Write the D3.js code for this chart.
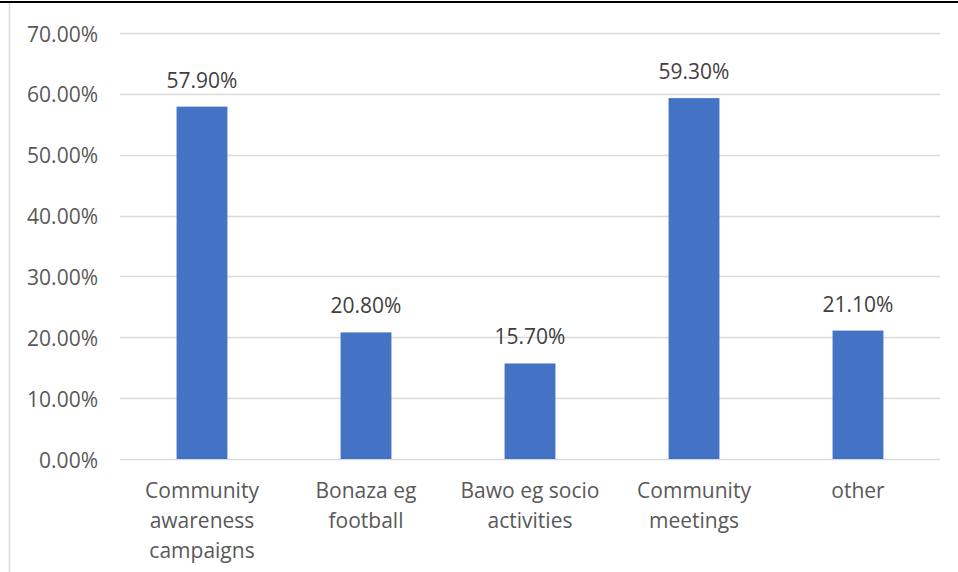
<!DOCTYPE html>
<html>
<head>
<meta charset=utf-8>
<style>
body {margin: 0; background: #fff;}
svg {display: block;}
text {font-family: 'Open Sans', 'Noto Sans', sans-serif;}
</style>
</head>
<body>
<svg id=chart width=958 height=572></svg>

<script src='https://cdn.jsdelivr.net/npm/d3@7/dist/d3.min.js'></script>
<script>
//chart data
var categories = ['Community awareness campaigns', 'Bonaza eg football', 'Bawo eg socio activities', 'Community meetings', 'other'];
var values = [0.579, 0.208, 0.157, 0.593, 0.211];
var yTicks = [0, 0.1, 0.2, 0.3, 0.4, 0.5, 0.6, 0.7];

var svg = d3.select('#chart');

//frame lines around the chart area
svg.append('line')
    .attr('x1', 0).attr('x2', 958).attr('y1', 2).attr('y2', 2)
    .attr('stroke', '#000').attr('stroke-width', 2);
svg.append('line')
    .attr('x1', 9.5).attr('x2', 9.5).attr('y1', 3).attr('y2', 572)
    .attr('stroke', '#d9d9d9').attr('stroke-width', 1.5);

//scales
var x = d3.scaleBand().domain(categories).range([120, 940])
    .paddingInner(0.69).paddingOuter(0.345);
var y = d3.scaleLinear().domain([0, 0.7]).range([459, 33]);

//gridlines + y tick labels
var yAxis = svg.append('g').attr('class', 'axis axis--y');
yAxis.selectAll('line')
  .data(yTicks)
  .enter().append('line')
    .attr('x1', 120).attr('x2', 940)
    .attr('y1', function(d) { return Math.round(y(d)) + 0.5; })
    .attr('y2', function(d) { return Math.round(y(d)) + 0.5; })
    .attr('stroke', '#d9d9d9')
    .attr('stroke-width', 1.5);
yAxis.selectAll('text')
  .data(yTicks)
  .enter().append('text')
    .attr('x', 98)
    .attr('y', function(d) { return y(d) + 8.5; })
    .attr('text-anchor', 'end')
    .attr('fill', '#595959')
    .style('font-size', '21px')
    .text(d3.format('.2%'));

//bars
svg.selectAll('.bar')
  .data(values)
  .enter().append('rect')
    .attr('class', 'bar')
    .attr('x', function(d, i) { return x(categories[i]); })
    .attr('y', function(d) { return y(d); })
    .attr('width', x.bandwidth())
    .attr('height', function(d) { return y(0) - y(d); })
    .attr('fill', '#4472c4');

//data labels
svg.selectAll('.label')
  .data(values)
  .enter().append('text')
    .attr('class', 'label')
    .attr('x', function(d, i) { return x(categories[i]) + x.bandwidth() / 2; })
    .attr('y', function(d) { return y(d) - 19; })
    .attr('text-anchor', 'middle')
    .attr('fill', '#404040')
    .style('font-size', '21px')
    .text(d3.format('.2%'));

//category labels, wrapped to the band width
var xAxis = svg.append('g').attr('class', 'axis axis--x');
xAxis.selectAll('text')
  .data(categories)
  .enter().append('text')
    .attr('x', function(d) { return x(d) + x.bandwidth() / 2; })
    .attr('y', 498)
    .attr('text-anchor', 'middle')
    .attr('fill', '#595959')
    .style('font-size', '21px')
    .each(function(d) {
      var el = d3.select(this), cx = +el.attr('x');
      var words = d.split(' '), line = [], lineNo = 0;
      var tspan = el.append('tspan').attr('x', cx).attr('y', 498);
      words.forEach(function(w) {
        line.push(w);
        tspan.text(line.join(' '));
        if (tspan.node().getComputedTextLength() > 150 && line.length > 1) {
          line.pop();
          tspan.text(line.join(' '));
          line = [w];
          lineNo++;
          tspan = el.append('tspan').attr('x', cx).attr('y', 498 + lineNo * 30).text(w);
        }
      });
    });
</script>
</body>
</html>
